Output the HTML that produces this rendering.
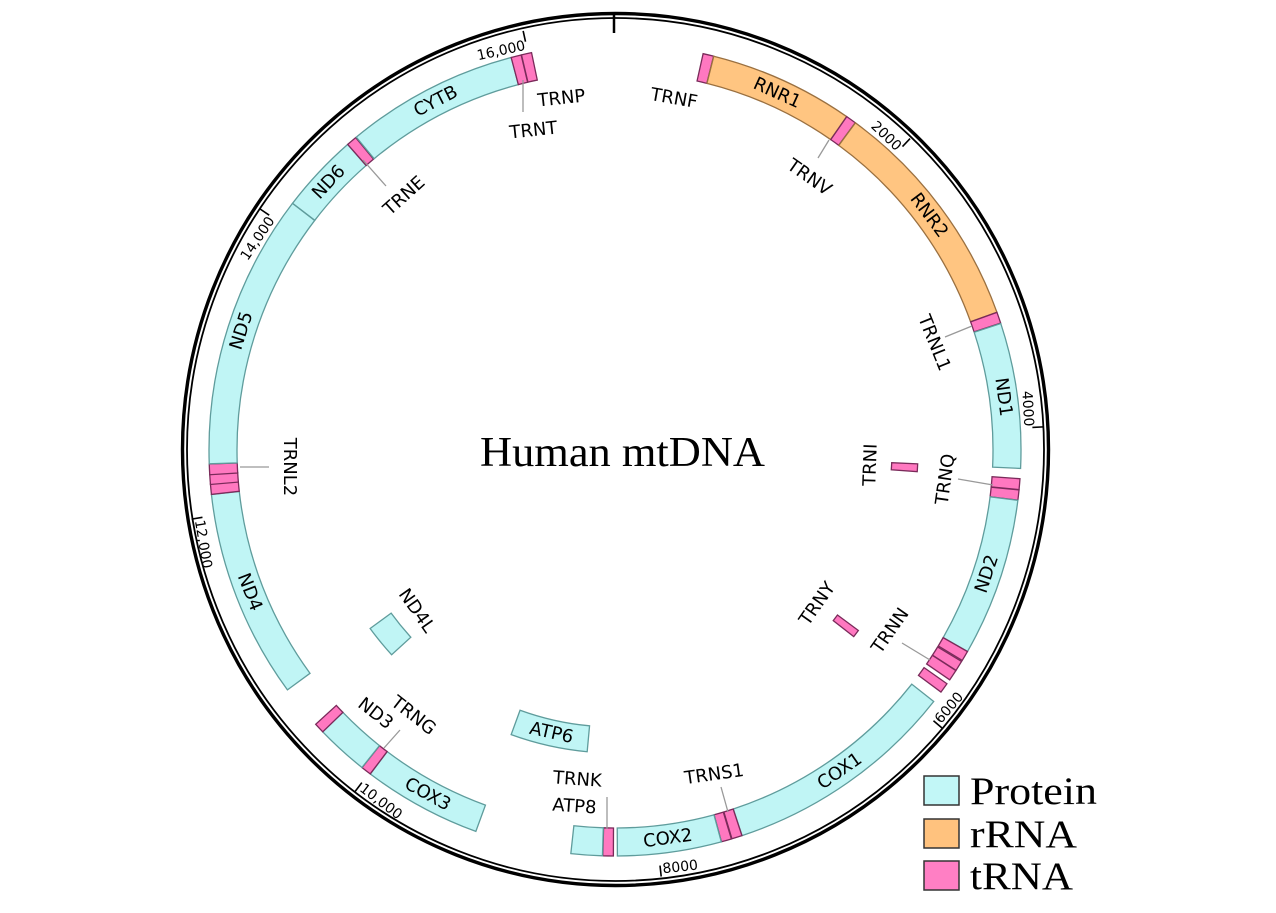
<!DOCTYPE html>
<html><head><meta charset="utf-8">
<style>
html,body{margin:0;padding:0;background:#fff;}
svg{display:block;}
.g{font-family:"DejaVu Sans","Liberation Sans",sans-serif;font-size:18px;fill:#000;}
.t{font-family:"DejaVu Sans","Liberation Sans",sans-serif;font-size:14px;fill:#000;}
.lg{font-family:"Liberation Serif",serif;font-size:39px;fill:#000;}
</style></head><body>
<svg id="s" width="1276" height="913" viewBox="0 0 1276 913" xmlns="http://www.w3.org/2000/svg">
<rect width="1276" height="913" fill="#fff"/>
<ellipse cx="615.5" cy="449.5" rx="433" ry="436" fill="none" stroke="#000" stroke-width="3.4"/>
<ellipse cx="615.5" cy="449.5" rx="428.5" ry="431.5" fill="none" stroke="#000" stroke-width="1.8"/>
<line x1="614" y1="14" x2="614" y2="33" stroke="#000" stroke-width="2.5"/>
<g id="ring"></g>
<g id="ticks"></g>
<g id="lab"></g>
<g stroke="#999" stroke-width="1.3">
<line x1="523" y1="80" x2="523" y2="112"/>
<line x1="363" y1="160" x2="386" y2="186"/>
<line x1="829" y1="140" x2="818" y2="158"/>
<line x1="972" y1="326" x2="945" y2="337"/>
<line x1="993" y1="485" x2="958" y2="479"/>
<line x1="930" y1="660" x2="902" y2="643"/>
<line x1="728" y1="812" x2="721" y2="787"/>
<line x1="607" y1="829" x2="607" y2="797"/>
<line x1="384" y1="748" x2="400" y2="730"/>
<line x1="240" y1="467" x2="269" y2="467"/>
</g>
<g class="g">
<text x="562" y="104" transform="rotate(-6 562 104)" text-anchor="middle">TRNP</text>
<text x="534" y="136" transform="rotate(-6 534 136)" text-anchor="middle">TRNT</text>
<text x="408" y="200" transform="rotate(-42 408 200)" text-anchor="middle">TRNE</text>
<text x="673" y="104" transform="rotate(10 673 104)" text-anchor="middle">TRNF</text>
<text x="806" y="182" transform="rotate(35 806 182)" text-anchor="middle">TRNV</text>
<text x="929" y="345" transform="rotate(68 929 345)" text-anchor="middle">TRNL1</text>
<text x="876" y="465" transform="rotate(-88 876 465)" text-anchor="middle">TRNI</text>
<text x="951" y="480" transform="rotate(-82 951 480)" text-anchor="middle">TRNQ</text>
<text x="822" y="607" transform="rotate(-55 822 607)" text-anchor="middle">TRNY</text>
<text x="895" y="634" transform="rotate(-55 895 634)" text-anchor="middle">TRNN</text>
<text x="715" y="780" transform="rotate(-8 715 780)" text-anchor="middle">TRNS1</text>
<text x="577" y="785" transform="rotate(4 577 785)" text-anchor="middle">TRNK</text>
<text x="574" y="812" transform="rotate(4 574 812)" text-anchor="middle">ATP8</text>
<text x="410" y="720" transform="rotate(38 410 720)" text-anchor="middle">TRNG</text>
<text x="372" y="718" transform="rotate(38 372 718)" text-anchor="middle">ND3</text>
<text x="412" y="614" transform="rotate(55 412 614)" text-anchor="middle">ND4L</text>
<text x="284" y="467" transform="rotate(90 284 467)" text-anchor="middle">TRNL2</text>
</g>
<text x="480" y="466" textLength="285" lengthAdjust="spacingAndGlyphs" style="font-family:'Liberation Serif',serif;font-size:42px;fill:#000">Human mtDNA</text>
<rect x="924" y="776" width="35" height="29" fill="#c2f7f7" stroke="#333" stroke-width="1.5"/>
<rect x="924" y="819" width="35" height="29" fill="#ffc27e" stroke="#333" stroke-width="1.5"/>
<rect x="924" y="861" width="35" height="29" fill="#ff7fc4" stroke="#333" stroke-width="1.5"/>
<text class="lg" x="970" y="804" textLength="127" lengthAdjust="spacingAndGlyphs">Protein</text>
<text class="lg" x="970" y="847" textLength="107" lengthAdjust="spacingAndGlyphs">rRNA</text>
<text class="lg" x="970" y="889" textLength="103" lengthAdjust="spacingAndGlyphs">tRNA</text>
</svg>
<script>
var cx=615,cy=450,T=16569,NS="http://www.w3.org/2000/svg";
function ang(p){return p/T*2*Math.PI;}
function pt(r,a){return [cx+r*Math.sin(a),cy-r*Math.cos(a)];}
function el(t,at,par,txt){var e=document.createElementNS(NS,t);for(var k in at)e.setAttribute(k,at[k]);if(txt)e.textContent=txt;par.appendChild(e);return e;}
var col={p:["#c0f5f5","#5f9c9c"],r:["#ffc581","#9a7040"],t:["#ff78c0","#7a2a5a"]};
var G=[["TRNF",577,647,"t",0],["RNR1",648,1601,"r",0,1],["TRNV",1602,1670,"t",0],["RNR2",1671,3229,"r",0,1],["TRNL1",3230,3304,"t",0],["ND1",3307,4262,"p",0,1],
["TRNI",4263,4331,"t",1],["TRNQ",4329,4400,"t",0],["TRNM",4402,4469,"t",0],["ND2",4470,5511,"p",0,1],["TRNW",5512,5579,"t",0],["TRNA",5587,5655,"t",0],["TRNN",5657,5729,"t",0],["TRNC",5761,5826,"t",0],["TRNY",5826,5891,"t",1],
["COX1",5904,7445,"p",0,1],["TRNS1",7446,7514,"t",0],["TRND",7518,7585,"t",0],["COX2",7586,8269,"p",0,1],["TRNK",8295,8364,"t",0],["ATP8",8366,8572,"p",0],["ATP6",8527,9207,"p",1,1],
["COX3",9207,9990,"p",0,1],["TRNG",9991,10058,"t",0],["ND3",10059,10404,"p",0],["TRNR",10405,10469,"t",0],["ND4L",10470,10766,"p",1],["ND4",10760,12137,"p",0,1],
["TRNH",12138,12206,"t",0],["TRNS2",12207,12265,"t",0],["TRNL2",12266,12336,"t",0],["ND5",12337,14148,"p",0,1],["ND6",14149,14673,"p",0,1],["TRNE",14674,14742,"t",0],["CYTB",14747,15887,"p",0,1],["TRNT",15888,15953,"t",0],["TRNP",15956,16023,"t",0]];
var ring=document.getElementById("ring"),lab=document.getElementById("lab"),tk=document.getElementById("ticks");
G.forEach(function(g){
 var a1=ang(g[1]),a2=ang(g[2]);var mn=1.45*Math.PI/180;
 if(a2-a1<mn){var m=(a1+a2)/2;a1=m-mn/2;a2=m+mn/2;}
 var ri=g[4]?277:378,ro=g[4]?303:406;
 var p1=pt(ro,a1),p2=pt(ro,a2),p3=pt(ri,a2),p4=pt(ri,a1);
 var la=(a2-a1)>Math.PI?1:0;
 var d="M"+p1+" A"+ro+" "+ro+" 0 "+la+" 1 "+p2+" L"+p3+" A"+ri+" "+ri+" 0 "+la+" 0 "+p4+"Z";
 el("path",{d:d,fill:col[g[3]][0],stroke:col[g[3]][1],"stroke-width":1.3},ring);
 if(g[5]){var m=(a1+a2)/2,deg=m*180/Math.PI,r=(ri+ro)/2,p=pt(r,m);
  var rot=(deg>90&&deg<270)?deg-180:deg;
  el("text",{x:p[0],y:p[1],"class":"g","text-anchor":"middle","dominant-baseline":"central",transform:"rotate("+rot+" "+p[0]+" "+p[1]+")"},lab,g[0]);}
});
[[2000,"2000"],[4000,"4000"],[6000,"6000"],[8000,"8000"],[10000,"10,000"],[12000,"12,000"],[14000,"14,000"],[16000,"16,000"]].forEach(function(t){
 var a=ang(t[0]),deg=a*180/Math.PI,q1=pt(418,a),q2=pt(429,a);
 el("line",{x1:q1[0],y1:q1[1],x2:q2[0],y2:q2[1],stroke:"#000","stroke-width":1.6},tk);
 var top=!(deg>90&&deg<270);
 var p=pt(top?410:426,a-(top?0.003:0.005));
 el("text",{x:p[0],y:p[1],"class":"t","text-anchor":top?"end":"start",transform:"rotate("+(top?deg:deg-180)+" "+p[0]+" "+p[1]+")"},tk,t[1]);
});
</script>
</body></html>
